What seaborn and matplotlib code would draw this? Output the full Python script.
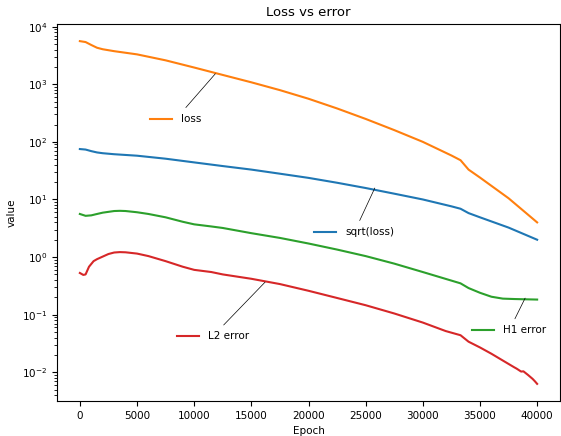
import numpy as np
import pandas as pd
import matplotlib
matplotlib.use("Agg")
import matplotlib.pyplot as plt
import seaborn as sns
from matplotlib.lines import Line2D
from matplotlib.offsetbox import AnnotationBbox, DrawingArea, HPacker, TextArea

# values (log scale)
loss_epoch = [0, 500, 1000, 1500, 2000, 3000, 5000, 7500, 10000, 12500, 15000,
              17500, 20000, 22500, 25000, 27500, 30000, 32500, 33300, 34000,
              35000, 37500, 40000]
loss_val = [5600, 5400, 4800, 4300, 4050, 3750, 3300, 2600, 1950, 1450, 1080,
            790, 560, 380, 250, 160, 100, 58, 48, 33, 24, 10.5, 4.0]

sqrt_epoch = [0, 500, 1000, 1500, 2000, 3000, 5000, 7500, 10000, 12500, 15000,
              17500, 20000, 22500, 25000, 27500, 30000, 32500, 33300, 34000,
              35000, 37500, 40000]
sqrt_val = [75, 73.5, 69, 65.5, 63.5, 61, 57.5, 51, 44, 38, 33, 28, 23.7, 19.5,
            15.8, 12.6, 10, 7.6, 6.9, 5.8, 4.9, 3.25, 2.0]

h1_epoch = [0, 500, 1000, 1500, 2000, 3000, 3500, 4000, 5000, 6000, 7500, 9000,
            10000, 11500, 12500, 15000, 17500, 20000, 22500, 25000, 27500,
            30000, 33300, 34000, 35000, 36000, 37000, 38000, 40000]
h1_val = [5.6, 5.2, 5.3, 5.6, 5.9, 6.3, 6.35, 6.3, 6.0, 5.6, 4.9, 4.1, 3.7, 3.4,
          3.2, 2.6, 2.15, 1.72, 1.35, 1.04, 0.77, 0.55, 0.35, 0.29, 0.24,
          0.205, 0.19, 0.187, 0.183]

l2_epoch = [0, 300, 500, 800, 1200, 1500, 2000, 2500, 3000, 3500, 4000, 5000,
            6000, 7500, 9000, 10000, 11500, 12500, 15000, 17500, 20000, 22500,
            25000, 27500, 30000, 32000, 33300, 34000, 35000, 36000, 37000,
            38000, 38200, 38600, 38800, 39200, 39600, 39800, 40000]
l2_val = [0.53, 0.49, 0.50, 0.68, 0.85, 0.92, 1.02, 1.13, 1.2, 1.22, 1.21, 1.15,
          1.04, 0.85, 0.68, 0.6, 0.55, 0.5, 0.42, 0.34, 0.26, 0.195, 0.146,
          0.105, 0.073, 0.052, 0.044, 0.034, 0.027, 0.021, 0.016, 0.0122,
          0.0116, 0.0103, 0.0104, 0.0090, 0.0077, 0.0070, 0.0063]

series_names = ["sqrt(loss)", "loss", "H1 error", "L2 error"]
colors = {"sqrt(loss)": "#1f77b4", "loss": "#ff7f0e",
          "H1 error": "#2ca02c", "L2 error": "#d62728"}

# label boxes: point on the curve and box centre
tag_epoch = [25800, 11850, 38950, 16200]
tag_value = [15.8, 1520, 0.194, 0.367]
box_epoch = [24010, 8410, 37560, 11630]
box_value = [2.72, 251, 0.0537, 0.0423]

frames = []
for name, ep, val in zip(series_names,
                         [sqrt_epoch, loss_epoch, h1_epoch, l2_epoch],
                         [sqrt_val, loss_val, h1_val, l2_val]):
    frames.append(pd.DataFrame({"Epoch": ep, "value": val, "series": name}))
df = pd.concat(frames, ignore_index=True)

plt.rcParams["font.size"] = 7.5
fig, ax = plt.subplots(figsize=(5.61, 4.36), dpi=100)
fig.subplots_adjust(left=57/561, right=560/561, top=1-24/436, bottom=1-401/436)

sns.lineplot(data=df, x="Epoch", y="value", hue="series", hue_order=series_names,
             palette=colors, legend=False, linewidth=1.5, ax=ax)
ax.set_yscale("log")
ax.set_title("Loss vs error", fontsize=9.5)
ax.set_xlabel("Epoch")
ax.set_ylabel("value")

for name, ex, ey, bx, by in zip(series_names, tag_epoch, tag_value, box_epoch, box_value):
    da = DrawingArea(16, 8, 0, 0)
    da.add_artist(Line2D([0, 16], [4, 4], color=colors[name], lw=1.5))
    ta = TextArea(name, textprops=dict(size=7.5))
    pack = HPacker(children=[da, ta], align="center", pad=0, sep=6.5)
    ab = AnnotationBbox(pack, (ex, ey), xybox=(bx, by), xycoords="data",
                        boxcoords="data", frameon=False,
                        arrowprops=dict(arrowstyle="-", color="k", lw=0.5,
                                        shrinkA=1, shrinkB=0))
    ax.add_artist(ab)

fig.savefig("out.png", dpi=100)
